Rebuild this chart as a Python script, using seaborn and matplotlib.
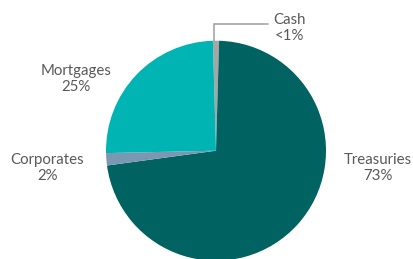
import matplotlib
matplotlib.use("Agg")
import matplotlib.pyplot as plt
import seaborn as sns

categories = ["Cash", "Treasuries", "Corporates", "Mortgages"]
values = [0.9, 72.4, 1.8, 24.9]
labels = ["Cash\n<1%", "Treasuries\n73%", "Corporates\n2%", "Mortgages\n25%"]
colors = ["#a6a6a6", "#006362", "#7b98b2", "#00b4b4"]

sns.set_theme(style="white")
plt.rcParams['font.family'] = ['Lato', 'DejaVu Sans']

W, H = 413, 259
fig = plt.figure(figsize=(W / 100, H / 100), dpi=100)
ax = fig.add_axes([0, 0, 1, 1])

cx, cy, r = 216, H - 150.7, 110
start = 90 + values[0] * 3.6 / 2
ax.pie(values, colors=colors, startangle=start, counterclock=False,
       center=(cx, cy), radius=r, frame=True,
       wedgeprops=dict(linewidth=0))
ax.set_xlim(0, W)
ax.set_ylim(0, H)
ax.set_aspect("equal")
ax.axis("off")

txt = dict(ha="center", va="center", fontsize=10.8, color="#595959", linespacing=1.25)
ax.text(289, H - 28, labels[0], **txt)
ax.text(378, H - 168, labels[1], **txt)
ax.text(47.5, H - 168, labels[2], **txt)
ax.text(76, H - 79, labels[3], **txt)

# leader line for Cash
ax.plot([213.7, 213.7, 268], [H - 41, H - 24, H - 24], color="#a6a6a6", lw=1.2,
        solid_joinstyle="miter")

fig.savefig("out.png", dpi=100)
